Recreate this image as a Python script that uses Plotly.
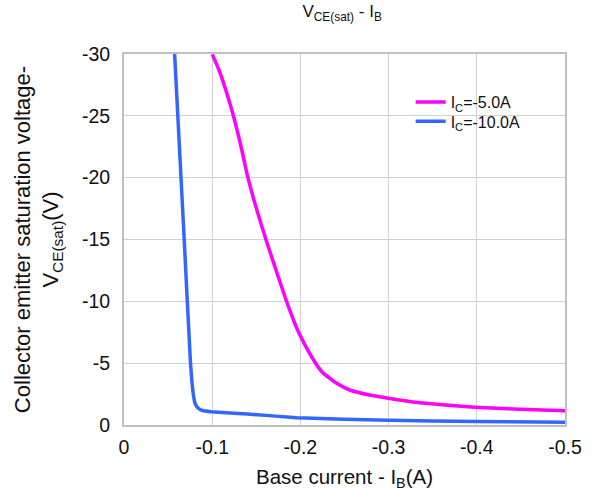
import plotly.graph_objects as go

# Data
ib_5a = [-0.1001, -0.1086, -0.1179, -0.1254, -0.1328, -0.1403, -0.1496, -0.1612,
         -0.1736, -0.1865, -0.1985, -0.2127, -0.2243, -0.2411, -0.256, -0.2784,
         -0.3083, -0.342, -0.398, -0.45, -0.5]
vce_5a = [-29.97, -28.54, -26.52, -24.64, -22.48, -20.06, -17.63, -14.94,
          -12.25, -9.56, -7.41, -5.52, -4.31, -3.37, -2.83, -2.42,
          -2.07, -1.75, -1.43, -1.28, -1.15]

ib_10a = [-0.0574, -0.0683, -0.0754, -0.0787, -0.0806, -0.0838, -0.0888, -0.099,
          -0.140, -0.196, -0.25, -0.30, -0.40, -0.50]
vce_10a = [-30, -14.94, -5.0, -2.42, -1.75, -1.37, -1.17, -1.07,
           -0.89, -0.59, -0.47, -0.38, -0.29, -0.22]

x_ticks = [0, -0.1, -0.2, -0.3, -0.4, -0.5]
x_ticktext = ["0", "-0.1", "-0.2", "-0.3", "-0.4", "-0.5"]
y_ticks = [0, -5, -10, -15, -20, -25, -30]
y_ticktext = ["0", "-5", "-10", "-15", "-20", "-25", "-30"]

FONT = "Liberation Sans, Arial, sans-serif"
TXT = "#111111"

fig = go.Figure()
fig.add_trace(go.Scatter(x=ib_5a, y=vce_5a, mode="lines", showlegend=True,
                         name="I<sub>C</sub>=-5.0A", legend="legend",
                         line=dict(color="#ff00ff", width=3.5, shape="spline", smoothing=0.5)))
fig.add_trace(go.Scatter(x=ib_10a, y=vce_10a, mode="lines", showlegend=True,
                         name="I<sub>C</sub>=-10.0A", legend="legend2",
                         line=dict(color="#3366ff", width=3.5, shape="spline", smoothing=0.3)))

legend_common = dict(xanchor="left", yanchor="top",
                     font=dict(size=16, family=FONT, color=TXT),
                     bgcolor="rgba(255,255,255,0)")

fig.update_layout(
    width=594, height=500,
    showlegend=True,
    margin=dict(l=124, r=22, t=54, b=75),
    paper_bgcolor="white", plot_bgcolor="white",
    font=dict(family=FONT, color=TXT),
    title=dict(text="V<sub>CE(sat)</sub> - I<sub>B</sub>", xref="container", x=0.576,
               xanchor="center", y=0.978, yanchor="middle",
               font=dict(size=17, family=FONT, color=TXT)),
    legend=dict(x=0.65, y=0.916, visible=True, **legend_common),
    legend2=dict(x=0.65, y=0.864, visible=True, **legend_common),
    xaxis=dict(range=[0, -0.5], tickvals=x_ticks, ticktext=x_ticktext,
               tickfont=dict(size=19.5), showgrid=True, gridcolor="#d0d0d0", gridwidth=1,
               showline=True, linecolor="#c0c0c0", linewidth=2, mirror=True,
               zeroline=False, ticks="", ticklabelstandoff=4,
               title=dict(text="Base current - I<sub>B</sub>(A)", font=dict(size=20.5), standoff=12)),
    yaxis=dict(range=[0, -30], tickvals=y_ticks, ticktext=y_ticktext,
               tickfont=dict(size=19.5), showgrid=True, gridcolor="#d0d0d0", gridwidth=1,
               showline=True, linecolor="#c0c0c0", linewidth=2, mirror=True,
               zeroline=False, ticks="", ticklabelstandoff=8,
               title=dict(text="Collector emitter saturation voltage-<br>V<sub>CE(sat)</sub>(V)",
                          font=dict(size=22), standoff=17)),
)

fig.write_html("out.html")
